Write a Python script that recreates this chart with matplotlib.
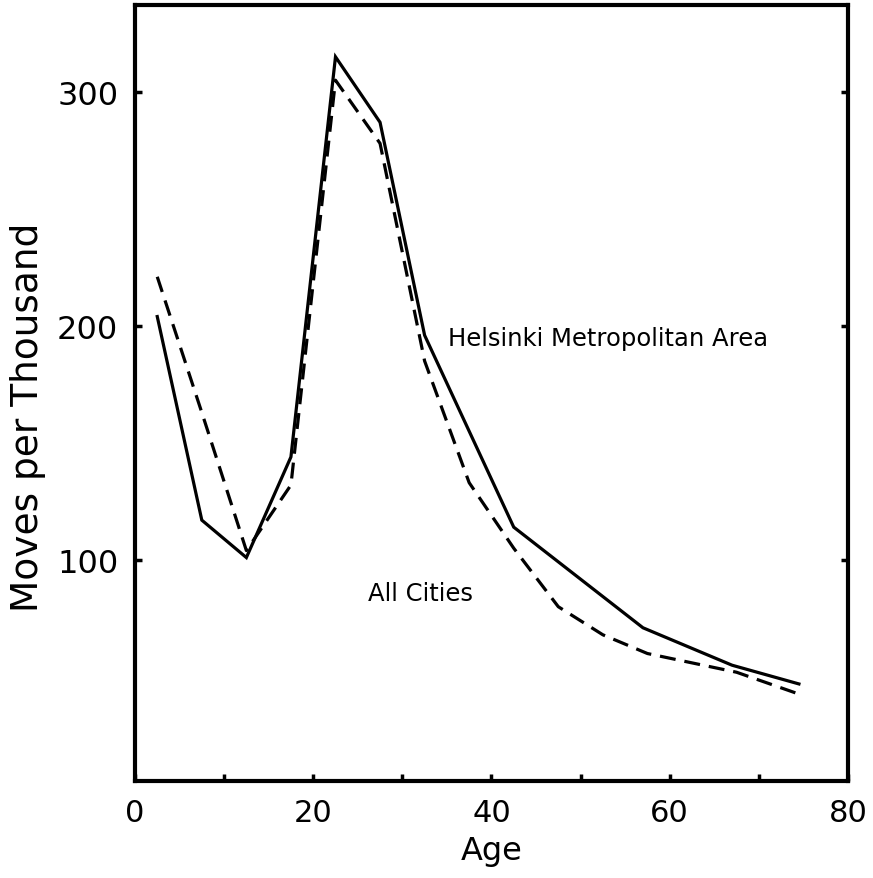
import matplotlib
matplotlib.use("Agg")
import matplotlib.pyplot as plt

# 读图得到的数据 (年龄组中点, 每千人迁移数)
helsinki_age = [2.5, 7.5, 12.5, 17.5, 22.5, 27.5, 32.5, 42.5, 57, 67, 74.5]
helsinki_moves = [204, 117, 101, 144, 315, 287, 196, 114, 71, 55, 47]

cities_age = [2.5, 7.5, 12.5, 17.5, 22.5, 27.5, 32.5, 37.5, 42.5, 47.5, 52.5, 57.5, 67.5, 75]
cities_moves = [221, 163, 104, 132, 305, 278, 185, 133, 105, 80, 68, 60, 52, 42]

x_ticks = [0, 20, 40, 60, 80]
x_minor = [10, 30, 50, 70]
y_ticks = [100, 200, 300]

plt.rcParams['font.family'] = ['DejaVu Sans']

fig = plt.figure(figsize=(8.73, 8.79), dpi=100)
ax = fig.add_axes([0.1546, 0.1103, 0.8167, 0.8825])

# 两条曲线
ax.plot(helsinki_age, helsinki_moves, color='black', linewidth=2.3, solid_joinstyle='miter')
ax.plot(cities_age, cities_moves, color='black', linewidth=2.3, linestyle=(0, (5, 2.8)))

ax.text(35.1, 195, "Helsinki Metropolitan Area", fontsize=17.5, va='center', ha='left')
ax.text(26.1, 86, "All Cities", fontsize=17.5, va='center', ha='left')

ax.set_xlim(0, 80)
ax.set_ylim(5.5, 337)
ax.set_xticks(x_ticks)
ax.set_xticks(x_minor, minor=True)
ax.set_yticks(y_ticks)

ax.tick_params(axis='both', which='both', direction='in', length=5, width=2.5,
               labelsize=22, pad=12)
ax.tick_params(axis='y', labelsize=23, right=True)
ax.tick_params(axis='x', which='minor', length=5)

for side in ax.spines:
    ax.spines[side].set_linewidth(3)

ax.set_xlabel("Age", fontsize=23, labelpad=6)
ax.set_ylabel("Moves per Thousand", fontsize=27, labelpad=6)
ax.yaxis.set_label_coords(-0.125, 0.47)

fig.savefig("out.png", dpi=100)
